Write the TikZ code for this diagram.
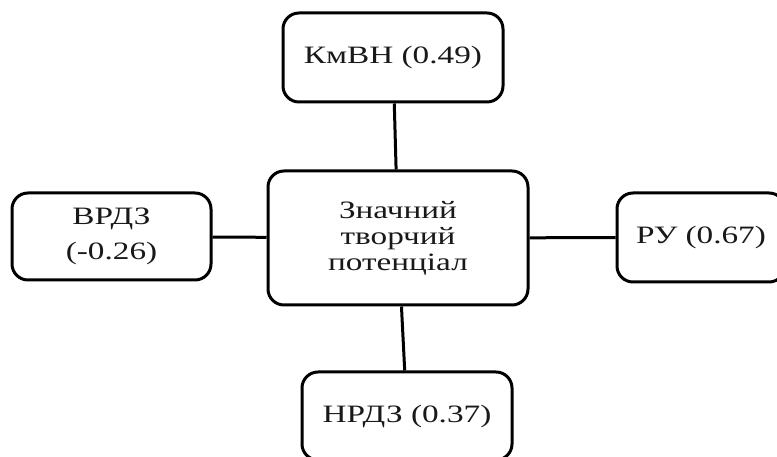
\documentclass[tikz,border=0pt]{standalone}
\usepackage{fontspec}
\setmainfont{Liberation Serif}[FakeStretch=1.33]
\usepackage{tikz}
\usetikzlibrary{positioning}
\definecolor{PotText}{RGB}{25, 25, 25}
\definecolor{PotLine}{RGB}{0, 0, 0}

\begin{document}
\begin{tikzpicture}[x=1pt,y=1pt,
    factorbox/.style={draw=PotLine, line width=3pt, rounded corners=16pt, fill=white,
      align=center, inner sep=0pt, text=PotText, font=\fontsize{25}{26}\selectfont},
    link/.style={draw=PotLine, line width=3pt}]
  \path[use as bounding box] (0,0) rectangle (777,457);
  \clip (0,0) rectangle (777,457);

  % factors round the centre
  \node[factorbox, minimum width=220, minimum height=89] (kmvn) at (393,399.5) {КмВН (0.49)};
  \node[factorbox, minimum width=260, minimum height=134] (centre) at (398,219) {Значний\\творчий\\потенціал};
  \node[factorbox, minimum width=199, minimum height=87, font=\fontsize{25}{35}\selectfont] (vrdz) at (111.5,220.5) {ВРДЗ\\(-0.26)};
  \node[factorbox, minimum width=168, minimum height=89] (ru) at (701,219.5) {РУ (0.67)};
  \node[factorbox, minimum width=210, minimum height=88] (nrdz) at (407,41) {НРДЗ (0.37)};

  \draw[link] (kmvn) -- (centre);
  \draw[link] (vrdz) -- (centre);
  \draw[link] (ru) -- (centre);
  \draw[link] (nrdz) -- (centre);
\end{tikzpicture}
\end{document}
